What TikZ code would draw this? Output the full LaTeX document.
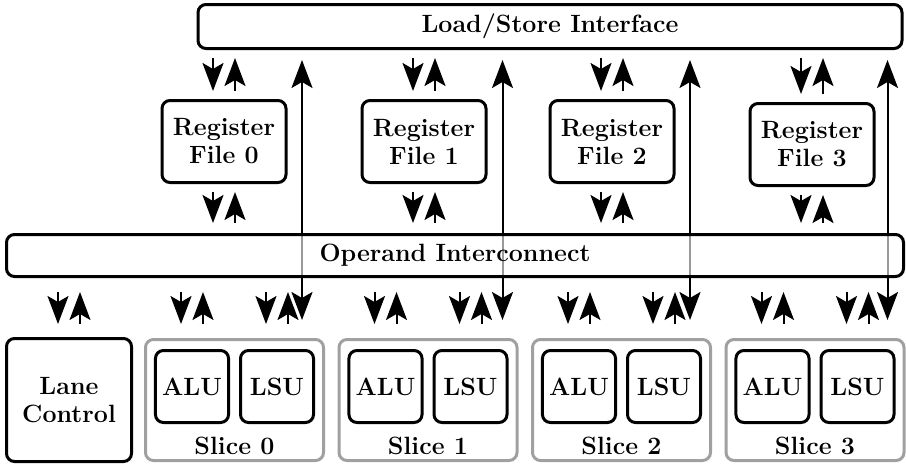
\documentclass[tikz,border=0pt]{standalone}
\usepackage{tikz}
\definecolor{slicegray}{RGB}{160,160,160}
\usetikzlibrary{
  arrows.meta,
  backgrounds,
}
\tikzset{
  wire/.style={line width=1pt, arrows={-Stealth[length=14pt,width=10.5pt,inset=3pt]}},
  longwire/.style={line width=1pt,
    arrows={Stealth[length=14pt,width=10.5pt,inset=3pt]-Stealth[length=14pt,width=10.5pt,inset=3pt]}},
  unitbox/.style={draw, line width=1.5pt, rounded corners=4pt, align=center,
    font=\fontsize{12.5}{14}\selectfont\bfseries},
  busbox/.style={unitbox, fill=white, fill opacity=0.6, text opacity=1},
  slicebox/.style={draw=slicegray, line width=1.5pt, rounded corners=4pt},
}

\begin{document}
\begin{tikzpicture}[x=0.5pt,y=-0.5pt]
      \useasboundingbox (0,0) rectangle (906,466);
      \node [busbox, minimum width=352pt, minimum height=22pt] at (550,26.5)
            (ls) {Load/Store Interface};
      \foreach \i/\x/\y in {0/224/141.5, 1/424/141.5, 2/612/141.5, 3/812/144.5}
        \node [unitbox, minimum width=62pt, minimum height=41pt] at (\x,\y)
              (rf\i) {Register\\File \i};
      \node [busbox, minimum width=448.5pt, minimum height=21pt] at (455,255.5)
            (ic) {Operand Interconnect};
      \node [unitbox, minimum width=62.5pt, minimum height=61.5pt] at (69,400)
            (lane) {Lane\\Control};
      \foreach \i/\x in {0/234.5, 1/428, 2/621.5, 3/815} {
        \node [slicebox, minimum width=89pt, minimum height=60.5pt] at (\x,400)
              (slice\i) {};
        \node [unitbox, minimum width=36.5pt, minimum height=36pt] at (\x-42.5,386.5)
              (alu\i) {ALU};
        \node [unitbox, minimum width=36.5pt, minimum height=36pt] at (\x+42.5,386.5)
              (lsu\i) {LSU};
        \node [font=\fontsize{12.5}{14}\selectfont\bfseries] at (\x,446)
              (name\i) {Slice \i};
      }
      \foreach \i in {0,...,3} {
        \draw [wire, shorten <=4pt, shorten >=4pt]
          ([xshift=-5.5pt]rf\i.north |- ls.south) -- ([xshift=-5.5pt]rf\i.north);
        \draw [wire, shorten <=4pt, shorten >=4pt]
          ([xshift=5.5pt]rf\i.north) -- ([xshift=5.5pt]rf\i.north |- ls.south);
        \draw [wire, shorten <=4pt, shorten >=5pt]
          ([xshift=-5.5pt]rf\i.south) -- ([xshift=-5.5pt]rf\i.south |- ic.north);
        \draw [wire, shorten <=5pt, shorten >=4pt]
          ([xshift=5.5pt]rf\i.south |- ic.north) -- ([xshift=5.5pt]rf\i.south);
      }
      \foreach \u in {lane, alu0, lsu0, alu1, lsu1, alu2, lsu2, alu3, lsu3} {
        \draw [wire, shorten <=7pt, shorten >=7pt]
          ([xshift=-5.5pt]\u.north |- ic.south) -- ([xshift=-5.5pt]\u.north |- slice0.north);
        \draw [wire, shorten <=7pt, shorten >=7pt]
          ([xshift=5.5pt]\u.north |- slice0.north) -- ([xshift=5.5pt]\u.north |- ic.south);
      }
      \begin{scope}[on background layer]
        \foreach \i/\dx in {0/12.5, 1/16, 2/13, 3/15}
          \draw [longwire, shorten <=5pt, shorten >=9pt]
            ([xshift=\dx pt]lsu\i.north |- ls.south) -- ([xshift=\dx pt]lsu\i.north |- slice\i.north);
      \end{scope}
    \end{tikzpicture}
\end{document}
